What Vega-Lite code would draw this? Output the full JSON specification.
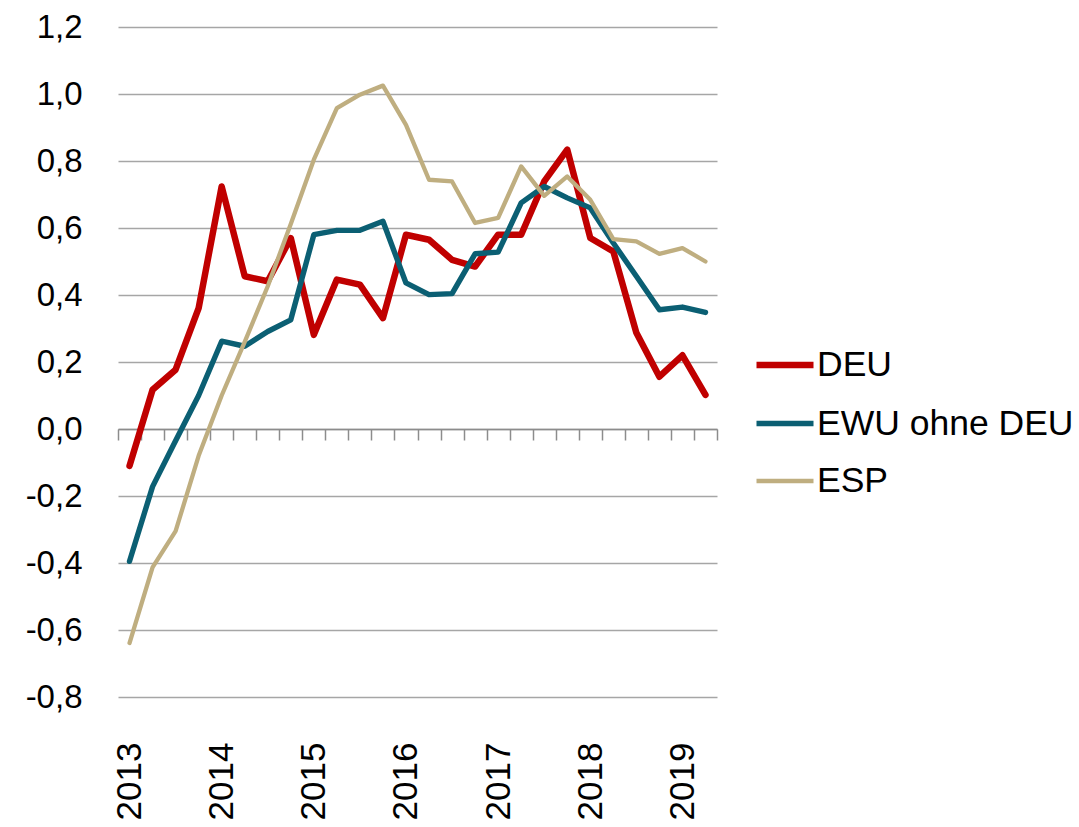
{"width":599,"height":670,"autosize":{"type":"none"},"padding":{"left":118,"top":27,"right":362,"bottom":130},"data":{"values":[{"t":0,"DEU":-0.11,"EWU ohne DEU":-0.395,"ESP":-0.639},{"t":1,"DEU":0.117,"EWU ohne DEU":-0.172,"ESP":-0.413},{"t":2,"DEU":0.177,"EWU ohne DEU":-0.035,"ESP":-0.305},{"t":3,"DEU":0.361,"EWU ohne DEU":0.1,"ESP":-0.08},{"t":4,"DEU":0.724,"EWU ohne DEU":0.262,"ESP":0.1},{"t":5,"DEU":0.456,"EWU ohne DEU":0.247,"ESP":0.26},{"t":6,"DEU":0.441,"EWU ohne DEU":0.291,"ESP":0.426},{"t":7,"DEU":0.57,"EWU ohne DEU":0.326,"ESP":0.612},{"t":8,"DEU":0.281,"EWU ohne DEU":0.58,"ESP":0.804},{"t":9,"DEU":0.446,"EWU ohne DEU":0.593,"ESP":0.958},{"t":10,"DEU":0.431,"EWU ohne DEU":0.593,"ESP":0.998},{"t":11,"DEU":0.331,"EWU ohne DEU":0.62,"ESP":1.025},{"t":12,"DEU":0.58,"EWU ohne DEU":0.436,"ESP":0.908},{"t":13,"DEU":0.565,"EWU ohne DEU":0.401,"ESP":0.744},{"t":14,"DEU":0.505,"EWU ohne DEU":0.404,"ESP":0.739},{"t":15,"DEU":0.485,"EWU ohne DEU":0.523,"ESP":0.615},{"t":16,"DEU":0.58,"EWU ohne DEU":0.528,"ESP":0.63},{"t":17,"DEU":0.58,"EWU ohne DEU":0.675,"ESP":0.784},{"t":18,"DEU":0.739,"EWU ohne DEU":0.724,"ESP":0.696},{"t":19,"DEU":0.834,"EWU ohne DEU":0.69,"ESP":0.754},{"t":20,"DEU":0.57,"EWU ohne DEU":0.66,"ESP":0.684},{"t":21,"DEU":0.53,"EWU ohne DEU":0.555,"ESP":0.567},{"t":22,"DEU":0.287,"EWU ohne DEU":0.456,"ESP":0.56},{"t":23,"DEU":0.156,"EWU ohne DEU":0.356,"ESP":0.523},{"t":24,"DEU":0.22,"EWU ohne DEU":0.364,"ESP":0.54},{"t":25,"DEU":0.102,"EWU ohne DEU":0.348,"ESP":0.5}]},"transform":[{"fold":["DEU","EWU ohne DEU","ESP"],"as":["Reihe","Wert"]}],"mark":{"type":"line","strokeCap":"round","strokeJoin":"round","clip":false},"encoding":{"x":{"field":"t","type":"quantitative","scale":{"domain":[-0.5,25.5],"nice":false,"zero":false},"axis":{"values":[-0.5,0,0.5,1,1.5,2,2.5,3,3.5,4,4.5,5,5.5,6,6.5,7,7.5,8,8.5,9,9.5,10,10.5,11,11.5,12,12.5,13,13.5,14,14.5,15,15.5,16,16.5,17,17.5,18,18.5,19,19.5,20,20.5,21,21.5,22,22.5,23,23.5,24,24.5,25,25.5],"labelExpr":"(datum.value % 4 == 0) ? ('' + (2013 + datum.value / 4)) : ''","labelAngle":-90,"labelAlign":"right","labelBaseline":"middle","labelFont":"Liberation Sans","labelFontSize":35,"labelColor":"#000000","labelPadding":302,"labelOverlap":false,"labelFlush":false,"labelBound":false,"offset":-268,"ticks":true,"tickSize":11,"tickWidth":1.5,"tickColor":"#8c8c8c","tickOpacity":{"condition":{"test":"datum.value % 1 != 0","value":1},"value":0},"domain":true,"domainColor":"#8c8c8c","domainWidth":1.5,"grid":false,"title":null}},"y":{"field":"Wert","type":"quantitative","scale":{"domain":[-0.8,1.2],"nice":false},"axis":{"values":[-0.8,-0.6,-0.4,-0.2,0,0.2,0.4,0.6,0.8,1.0,1.2],"labelExpr":"replace(replace(format(datum.value, '.1f'), '.', ','), '\u2212', '-')","labelFont":"Liberation Sans","labelFontSize":33,"labelColor":"#000000","labelPadding":36,"ticks":false,"domain":false,"grid":true,"gridColor":"#a6a6a6","gridWidth":1.5,"title":null}},"color":{"field":"Reihe","type":"nominal","sort":["DEU","EWU ohne DEU","ESP"],"scale":{"domain":["DEU","EWU ohne DEU","ESP"],"range":["#c00000","#0b5f73","#bfae80"]},"legend":{"title":null,"orient":"none","legendX":635,"legendY":306,"labelFont":"Liberation Sans","labelFontSize":35.5,"labelColor":"#000000","symbolType":"stroke","symbolSize":3249,"symbolStrokeWidth":5,"rowPadding":8,"labelOffset":0,"labelLimit":400}},"strokeWidth":{"field":"Reihe","type":"nominal","scale":{"domain":["DEU","EWU ohne DEU","ESP"],"range":[6.5,4.3,4.3]},"legend":null}},"config":{"view":{"stroke":null}}}
